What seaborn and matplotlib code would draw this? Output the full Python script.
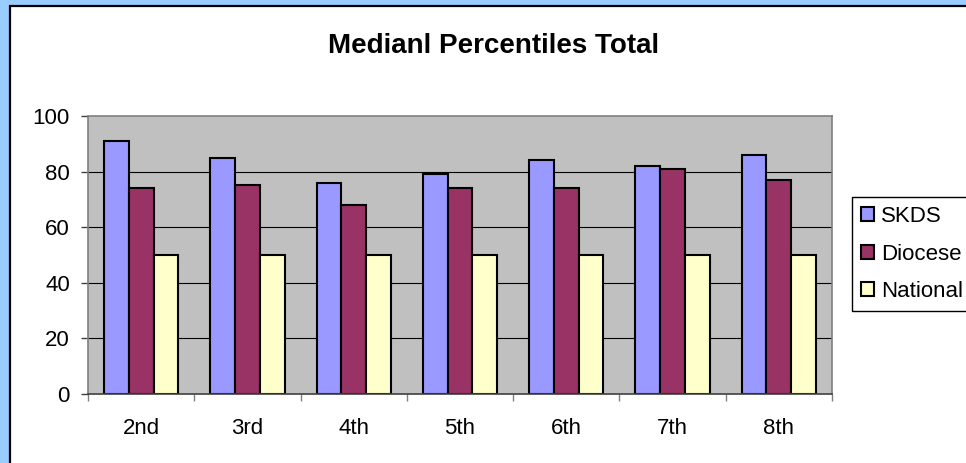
import pandas as pd
import seaborn as sns
import matplotlib.pyplot as plt
from matplotlib.patches import Rectangle

# Chart data
grades = ["2nd", "3rd", "4th", "5th", "6th", "7th", "8th"]
skds = [91, 85, 76, 79, 84, 82, 86]
diocese = [74, 75, 68, 74, 74, 81, 77]
national = [50, 50, 50, 50, 50, 50, 50]
series_names = ["SKDS", "Diocese", "National"]
colors = ["#9999FF", "#993366", "#FFFFCC"]

# long format for seaborn
data = pd.DataFrame({
    "Grade": grades * 3,
    "Percentile": skds + diocese + national,
    "Group": [series_names[0]] * 7 + [series_names[1]] * 7 + [series_names[2]] * 7,
})

sns.set_style("white")
plt.rcParams['font.family'] = ['Liberation Sans', 'DejaVu Sans']
plt.rcParams['text.color'] = 'black'
plt.rcParams['xtick.color'] = 'black'
plt.rcParams['ytick.color'] = 'black'

W, H = 966, 463
fig = plt.figure(figsize=(W / 100, H / 100), dpi=100)
fig.patch.set_facecolor("#99CCFF")

# white chart area with black border
fig.patches.append(Rectangle((10 / W, -0.05), 1.2, 1 - 6 / H + 0.05,
                             transform=fig.transFigure, facecolor="white",
                             edgecolor="black", linewidth=1.6, zorder=-1))

ax = fig.add_axes([88 / W, (H - 394) / H, (832 - 88) / W, (394 - 116) / H])
ax.set_facecolor("#C0C0C0")
ax.set_zorder(1)

sns.barplot(data=data, x="Grade", y="Percentile", hue="Group", order=grades,
            hue_order=series_names, palette=colors, width=0.7,
            edgecolor="black", linewidth=1.5, saturation=1, ax=ax)

ax.set_ylim(0, 100)
ax.set_xlim(-0.5, 6.5)
ax.set_yticks(range(0, 101, 20))
ax.set_xticks([i + 0.5 for i in range(-1, 7)], minor=True)
ax.set_xticks(range(7))
ax.set_xticklabels(grades)
ax.set_xlabel("")
ax.set_ylabel("")

# black horizontal gridlines
for yv in range(20, 100, 20):
    ax.axhline(yv, color="black", linewidth=0.8, zorder=0.5)
ax.set_axisbelow(True)

for side in ["top", "right", "left"]:
    ax.spines[side].set_color("#808080")
    ax.spines[side].set_linewidth(1.2)
ax.spines["bottom"].set_color("#404040")
ax.spines["bottom"].set_linewidth(1.2)

ax.tick_params(axis="y", direction="out", length=5, width=1, color="#404040",
               pad=8, labelsize=16, left=True)
ax.tick_params(axis="x", which="major", length=0, pad=17, labelsize=16)
ax.tick_params(axis="x", which="minor", direction="out", length=5, width=1,
               color="#808080", bottom=True)

# legend outside on the right
handles, labels = ax.get_legend_handles_labels()
ax.get_legend().remove()
leg = fig.legend(handles, labels, loc="upper left",
                 bbox_to_anchor=(852 / W, 1 - 197 / H), borderaxespad=0,
                 fontsize=16, frameon=True, fancybox=False, edgecolor="black",
                 framealpha=1, handlelength=0.6, handleheight=0.6,
                 handletextpad=0.3, labelspacing=0.75, borderpad=0.4)
leg.get_frame().set_linewidth(1.0)

fig.text(494 / W, 1 - 53 / H, "Medianl Percentiles Total", ha="center",
         va="baseline", fontsize=20, fontweight="bold")

fig.savefig("out.png", dpi=100, facecolor=fig.get_facecolor())
